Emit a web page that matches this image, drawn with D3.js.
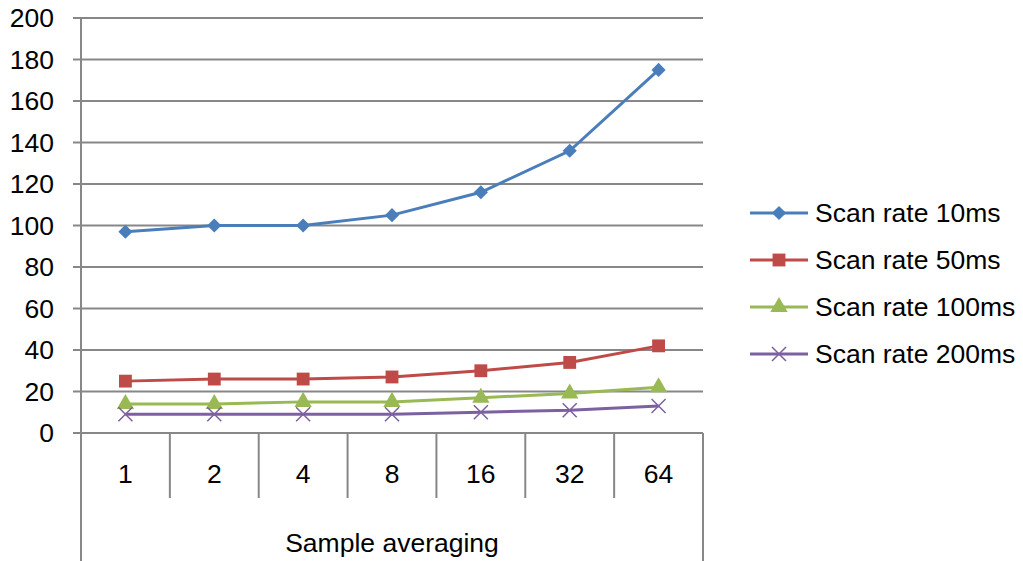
<!DOCTYPE html>
<html>
<head>
<meta charset="utf-8">
<script src="https://cdn.jsdelivr.net/npm/d3@7"></script>
<style>
  body { margin: 0; background: #fff; }
  text { font-family: "Liberation Sans", Arial, sans-serif; fill: #000; }
</style>
</head>
<body>
<svg width="1023" height="561"></svg>
<script>
// data
var categories = ["1", "2", "4", "8", "16", "32", "64"];
var seriesNames = ["Scan rate 10ms", "Scan rate 50ms", "Scan rate 100ms", "Scan rate 200ms"];
var rate10 = [97, 100, 100, 105, 116, 136, 175];
var rate50 = [25, 26, 26, 27, 30, 34, 42];
var rate100 = [14, 14, 15, 15, 17, 19, 22];
var rate200 = [9, 9, 9, 9, 10, 11, 13];
var yTicks = [0, 20, 40, 60, 80, 100, 120, 140, 160, 180, 200];

var colors = ["#4A7EBB", "#BE4B48", "#98B954", "#7D60A0"];
var markers = ["diamond", "square", "triangle", "x"];
var series = [rate10, rate50, rate100, rate200].map(function(v, i) {
    return { name: seriesNames[i], values: v, color: colors[i], marker: markers[i] };
});

var svg = d3.select("svg"),
    margin = { top: 18, left: 81 },
    width = 622,
    height = 415,
    fontSize = "26.5px";

var g = svg.append("g")
    .attr("transform", "translate(" + margin.left + "," + margin.top + ")");

var xScale = d3.scaleBand().domain(categories).range([0, width]);
var yScale = d3.scaleLinear().domain([0, 200]).range([height, 0]);

var gridColor = "#878787";

// horizontal gridlines with little ticks on the left
g.selectAll("line.grid")
    .data(yTicks)
    .enter().append("line")
    .attr("class", "grid")
    .attr("x1", -8)
    .attr("x2", width)
    .attr("y1", function(d) { return yScale(d); })
    .attr("y2", function(d) { return yScale(d); })
    .attr("stroke", gridColor)
    .attr("stroke-width", 2);

// y tick labels
g.selectAll("text.ytick")
    .data(yTicks)
    .enter().append("text")
    .attr("class", "ytick")
    .attr("x", -27)
    .attr("y", function(d) { return yScale(d); })
    .attr("dy", "0.35em")
    .attr("text-anchor", "end")
    .style("font-size", fontSize)
    .text(function(d) { return d; });

// left axis and the right border, running down to the bottom
g.append("line")
    .attr("x1", 0).attr("x2", 0)
    .attr("y1", 0).attr("y2", 561 - margin.top)
    .attr("stroke", gridColor).attr("stroke-width", 2);
g.append("line")
    .attr("x1", width).attr("x2", width)
    .attr("y1", height).attr("y2", 561 - margin.top)
    .attr("stroke", gridColor).attr("stroke-width", 2);

// category dividers under the axis
g.selectAll("line.div")
    .data(categories.slice(1))
    .enter().append("line")
    .attr("class", "div")
    .attr("x1", function(d) { return xScale(d); })
    .attr("x2", function(d) { return xScale(d); })
    .attr("y1", height)
    .attr("y2", height + 65)
    .attr("stroke", gridColor).attr("stroke-width", 2);

// category labels
g.selectAll("text.xtick")
    .data(categories)
    .enter().append("text")
    .attr("class", "xtick")
    .attr("x", function(d) { return xScale(d) + xScale.bandwidth() / 2; })
    .attr("y", height + 41)
    .attr("dy", "0.35em")
    .attr("text-anchor", "middle")
    .style("font-size", fontSize)
    .text(function(d) { return d; });

// axis title
g.append("text")
    .attr("x", xScale("8") + xScale.bandwidth() / 2)
    .attr("y", height + 110)
    .attr("dy", "0.35em")
    .attr("text-anchor", "middle")
    .style("font-size", fontSize)
    .text("Sample averaging");

var line = d3.line()
    .x(function(d, i) { return xScale(categories[i]) + xScale.bandwidth() / 2; })
    .y(function(d) { return yScale(d); });

function markerPath(m) {
    if (m === "diamond") return d3.symbol().type(d3.symbolSquare).size(100)();
    if (m === "square") return d3.symbol().type(d3.symbolSquare).size(165)();
    if (m === "triangle") return d3.symbol().type(d3.symbolTriangle).size(130)();
    return d3.symbol().type(d3.symbolX).size(130)();
}
function markerTransform(m) {
    return m === "diamond" ? " rotate(45)" : "";
}

series.forEach(function(s) {
    g.append("path")
        .datum(s.values)
        .attr("d", line)
        .attr("fill", "none")
        .attr("stroke", s.color)
        .attr("stroke-width", 3);

    g.selectAll(null)
        .data(s.values)
        .enter().append("path")
        .attr("transform", function(d, i) {
            return "translate(" + (xScale(categories[i]) + xScale.bandwidth() / 2) + "," + yScale(d) + ")" + markerTransform(s.marker);
        })
        .attr("d", markerPath(s.marker))
        .attr("fill", s.marker === "x" ? "none" : s.color)
        .attr("stroke", s.color)
        .attr("stroke-width", s.marker === "x" ? 1.5 : 0);
});

// legend
var legend = svg.append("g");
var rows = legend.selectAll("g")
    .data(series)
    .enter().append("g")
    .attr("transform", function(d, i) { return "translate(750," + (213 + i * 47) + ")"; });

rows.append("line")
    .attr("x1", 0).attr("x2", 58)
    .attr("stroke", function(d) { return d.color; })
    .attr("stroke-width", 3);

rows.append("path")
    .attr("transform", function(d) { return "translate(29,0)" + markerTransform(d.marker); })
    .attr("d", function(d) { return markerPath(d.marker); })
    .attr("fill", function(d) { return d.marker === "x" ? "none" : d.color; })
    .attr("stroke", function(d) { return d.color; })
    .attr("stroke-width", function(d) { return d.marker === "x" ? 1.5 : 0; });

rows.append("text")
    .attr("x", 65)
    .attr("dy", "0.35em")
    .style("font-size", fontSize)
    .text(function(d) { return d.name; });
</script>
</body>
</html>
